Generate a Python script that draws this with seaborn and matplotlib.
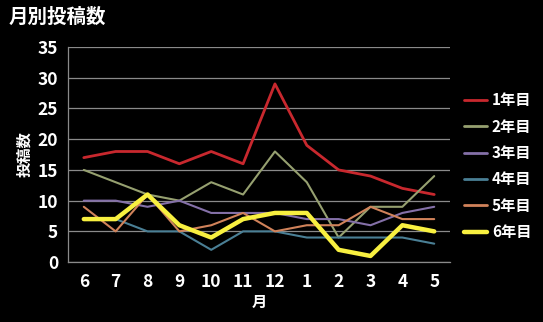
import matplotlib
matplotlib.use("Agg")
import matplotlib.pyplot as plt
import seaborn as sns
import pandas as pd
from matplotlib.lines import Line2D

months = ["6", "7", "8", "9", "10", "11", "12", "1", "2", "3", "4", "5"]
series_names = ["1年目", "2年目", "3年目", "4年目", "5年目", "6年目"]
y1 = [17, 18, 18, 16, 18, 16, 29, 19, 15, 14, 12, 11]
y2 = [15, 13, 11, 10, 13, 11, 18, 13, 4, 9, 9, 14]
y3 = [10, 10, 9, 10, 8, 8, 8, 7, 7, 6, 8, 9]
y4 = [7, 7, 5, 5, 2, 5, 5, 4, 4, 4, 4, 3]
y5 = [9, 5, 11, 5, 6, 8, 5, 6, 6, 9, 7, 7]
y6 = [7, 7, 11, 6, 4, 7, 8, 8, 2, 1, 6, 5]
colors = ["#C8282E", "#96A070", "#8470A8", "#4A7F95", "#D0825A", "#F8F040"]
widths = [2.0, 1.5, 1.5, 1.5, 1.5, 3.2]

rows = []
for name, vals in zip(series_names, [y1, y2, y3, y4, y5, y6]):
    for i, (m, v) in enumerate(zip(months, vals)):
        rows.append({"idx": i, "month": m, "series": name, "value": v})
df = pd.DataFrame(rows)

sns.set_style("dark")
plt.rcParams["font.family"] = ["Noto Sans CJK JP", "DejaVu Sans"]

fig = plt.figure(figsize=(5.43, 3.22), dpi=100, facecolor="black")
ax = fig.add_axes([0.125, 0.186, 0.704, 0.668])
ax.set_facecolor("black")

sns.lineplot(data=df, x="idx", y="value", hue="series", hue_order=series_names,
             palette=colors, ax=ax, legend=False, sort=False)
for line, w in zip(ax.get_lines(), widths):
    line.set_linewidth(w)
    line.set_solid_joinstyle("round")

ax.set_xlim(-0.5, 11.5)
ax.set_ylim(0, 35)
ax.set_yticks(range(0, 36, 5))
ax.set_xticks(range(len(months)))
ax.set_xticklabels(months)
ax.grid(axis="y", color="#8a8a8a", linewidth=0.9)
ax.grid(axis="x", visible=False)
for s in ["top", "right"]:
    ax.spines[s].set_visible(False)
for s in ["left", "bottom"]:
    ax.spines[s].set_visible(True)
    ax.spines[s].set_color("#8a8a8a")
    ax.spines[s].set_linewidth(0.9)
ax.tick_params(axis="y", colors="white", labelsize=12.5, length=3, color="#8a8a8a", pad=4)
ax.tick_params(axis="x", colors="white", labelsize=12.5, length=0, pad=8)
for lab in ax.get_xticklabels() + ax.get_yticklabels():
    lab.set_fontweight("bold")

ax.set_xlabel("月", color="white", fontsize=11, fontweight="bold", labelpad=2)
ax.set_ylabel("投稿数", color="white", fontsize=11, fontweight="bold", labelpad=4)

fig.text(0.015, 0.975, "月別投稿数", color="white", fontsize=14, fontweight="bold",
         ha="left", va="top")

handles = [Line2D([0], [0], color=c, lw=(w if w > 2 else 2.0)) for c, w in zip(colors, widths)]
leg = fig.legend(handles, series_names, loc="center left", bbox_to_anchor=(0.855, 0.484),
                 frameon=False, labelcolor="white", handlelength=1.5, handletextpad=0.3,
                 labelspacing=0.68, borderpad=0, borderaxespad=0,
                 prop={"weight": "bold", "size": 11})

fig.savefig("out.png", dpi=100, facecolor="black")
